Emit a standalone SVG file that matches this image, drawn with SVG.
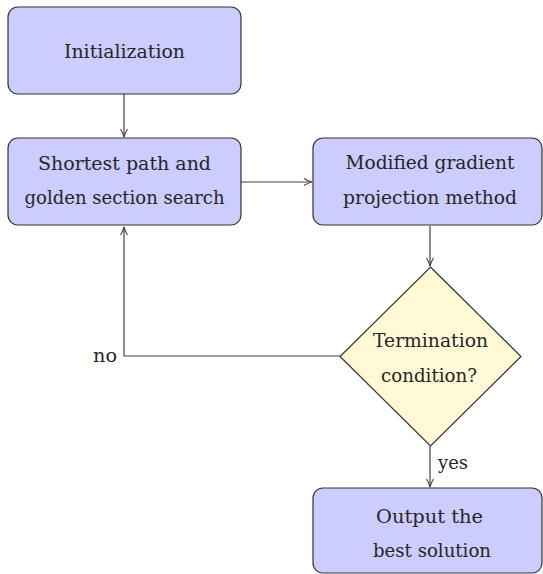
<svg xmlns="http://www.w3.org/2000/svg" width="543" height="574" viewBox="0 0 543 574">
<style>
.box{fill:#ccccff;stroke:#333;stroke-width:1.2}
.dec{fill:#fff9d6;stroke:#333;stroke-width:1.2}
.t{font-size:18px;fill:#262626;text-anchor:middle}
.c{fill:none;stroke:#444;stroke-width:1.2}
</style>
<defs>
<marker id="ah" viewBox="0 0 10 10" refX="9" refY="5" markerWidth="10" markerHeight="10" markerUnits="userSpaceOnUse" orient="auto">
<path d="M1,1.5 Q5,4 9,5 Q5,6 1,8.5" fill="none" stroke="#444" stroke-width="1.1"/>
</marker>
</defs>
<rect width="543" height="574" fill="#fff"/>
<g font-family="'DejaVu Serif', 'Liberation Serif', serif">
<g id="connectors">
<path class="c" d="M124,94 V137" marker-end="url(#ah)"/>
<path class="c" d="M241,182 H312" marker-end="url(#ah)"/>
<path class="c" d="M430,226 V266" marker-end="url(#ah)"/>
<path class="c" d="M340,356 H124 V227" marker-end="url(#ah)"/>
<path class="c" d="M430,446 V487" marker-end="url(#ah)"/>
<text class="t" x="105" y="362" textLength="24" lengthAdjust="spacingAndGlyphs">no</text>
<text class="t" x="453" y="469" textLength="30" lengthAdjust="spacingAndGlyphs">yes</text>
</g>
<g id="init">
<rect class="box" x="8" y="7" width="233" height="87" rx="10"/>
<text class="t" x="124.5" y="58" textLength="121" lengthAdjust="spacingAndGlyphs">Initialization</text>
</g>
<g id="shortest">
<rect class="box" x="8" y="138" width="233" height="87" rx="10"/>
<text class="t" x="124.5" y="170" textLength="173" lengthAdjust="spacingAndGlyphs">Shortest path and</text>
<text class="t" x="124.5" y="204" textLength="200" lengthAdjust="spacingAndGlyphs">golden section search</text>
</g>
<g id="gradient">
<rect class="box" x="313" y="138" width="229" height="87" rx="10"/>
<text class="t" x="430" y="169" textLength="169" lengthAdjust="spacingAndGlyphs">Modified gradient</text>
<text class="t" x="430" y="204" textLength="174" lengthAdjust="spacingAndGlyphs">projection method</text>
</g>
<g id="termination">
<polygon class="dec" points="430.5,267 521,356.5 430.5,446 340,356.5"/>
<text class="t" x="430.5" y="347" textLength="115" lengthAdjust="spacingAndGlyphs">Termination</text>
<text class="t" x="429" y="382" textLength="96" lengthAdjust="spacingAndGlyphs">condition?</text>
</g>
<g id="output">
<rect class="box" x="313" y="488" width="229" height="85" rx="10"/>
<text class="t" x="429.5" y="523" textLength="107" lengthAdjust="spacingAndGlyphs">Output the</text>
<text class="t" x="432" y="557" textLength="118" lengthAdjust="spacingAndGlyphs">best solution</text>
</g>
</g>
</svg>
